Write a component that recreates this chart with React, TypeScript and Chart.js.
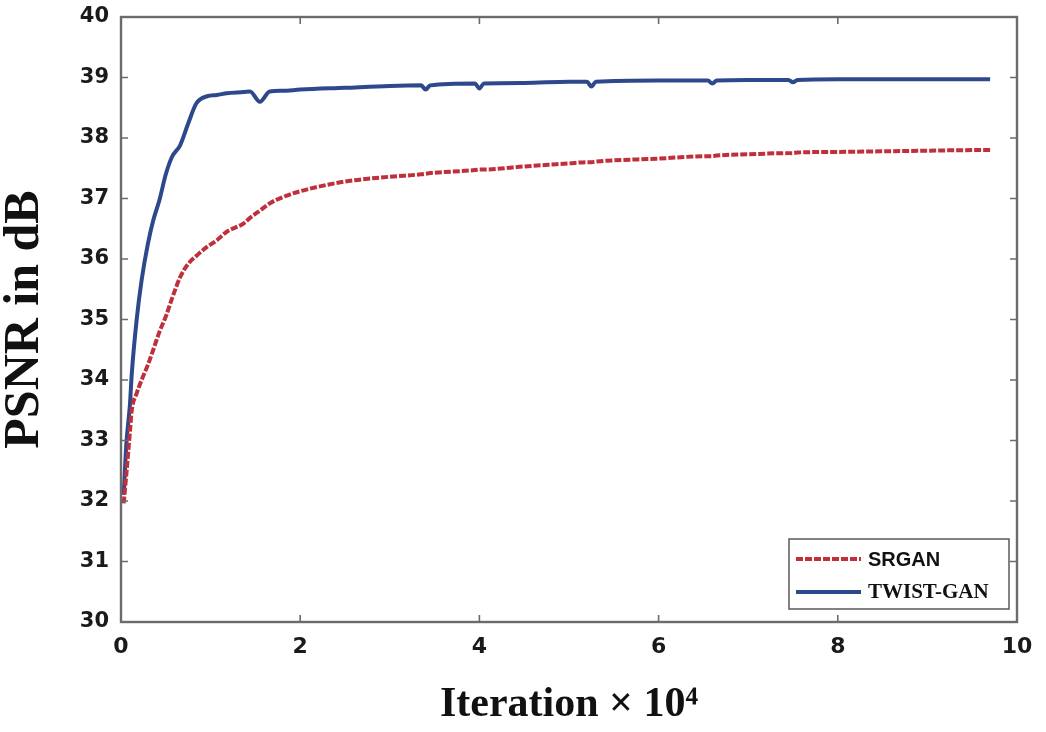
import React, { useEffect, useRef } from "react";
import { Chart, registerables } from "chart.js";

Chart.register(...registerables);

// Iteration (x 10^4)
const iterations = [
  0.03, 0.06, 0.1, 0.12, 0.175, 0.23, 0.3, 0.36, 0.43, 0.5, 0.57, 0.66, 0.75, 0.84, 0.96,
  1.07, 1.18, 1.37, 1.44, 1.55, 1.66, 1.8, 2.0, 2.5, 3.0, 3.35, 3.4, 3.45, 3.95, 4.0,
  4.05, 4.5, 5.0, 5.2, 5.25, 5.3, 6.0, 6.55, 6.6, 6.65, 7.0, 7.45, 7.5, 7.55, 8.0,
  8.5, 9.0, 9.5, 9.7,
];

// PSNR in dB
const srganPsnr = [
  31.96, 32.45, 33.15, 33.5, 33.78, 34.0, 34.25, 34.5, 34.8, 35.05, 35.35, 35.7, 35.92, 36.05, 36.2,
  36.31, 36.45, 36.59, 36.68, 36.8, 36.92, 37.02, 37.12, 37.28, 37.36, 37.4, 37.41, 37.42, 37.47, 37.48,
  37.48, 37.53, 37.58, 37.6, 37.6, 37.61, 37.66, 37.7, 37.7, 37.71, 37.73, 37.75, 37.75, 37.76, 37.77,
  37.78, 37.79, 37.8, 37.8,
];

const twistGanPsnr = [
  32.1, 32.95, 33.6, 34.1, 35.0, 35.65, 36.25, 36.64, 36.98, 37.4, 37.69, 37.88, 38.24, 38.57, 38.69,
  38.71, 38.74, 38.76, 38.77, 38.6, 38.77, 38.78, 38.8, 38.83, 38.86, 38.87, 38.8, 38.87, 38.9, 38.82,
  38.9, 38.91, 38.93, 38.93, 38.85, 38.93, 38.95, 38.95, 38.9, 38.95, 38.96, 38.96, 38.92, 38.96, 38.97,
  38.97, 38.97, 38.97, 38.97,
];

const seriesLabels = ["SRGAN", "TWIST-GAN"];
const xRange = [0, 10];
const xStep = 2;
const yRange = [30, 40];
const yStep = 1;
const xTitle = "Iteration \u00D7 10\u2074";
const yTitle = "PSNR in dB";

const RED = "rgb(192, 48, 60)";
const BLUE = "rgb(46, 72, 140)";
const FRAME = "#6b6b6b";

const framePlugin = {
  id: "frameTicks",
  afterDatasetsDraw(chart: any) {
    const { ctx, chartArea } = chart;
    const { left, right, top, bottom } = chartArea;
    const xs = chart.scales.x;
    const ys = chart.scales.y;
    ctx.save();
    ctx.strokeStyle = FRAME;
    ctx.lineWidth = 1.6;
    const tl = 7;
    ctx.beginPath();
    ys.ticks.forEach((t: any) => {
      const y = ys.getPixelForValue(t.value);
      ctx.moveTo(left, y);
      ctx.lineTo(left + tl, y);
      ctx.moveTo(right, y);
      ctx.lineTo(right - tl, y);
    });
    xs.ticks.forEach((t: any) => {
      const x = xs.getPixelForValue(t.value);
      ctx.moveTo(x, bottom);
      ctx.lineTo(x, bottom - tl);
      ctx.moveTo(x, top);
      ctx.lineTo(x, top + tl);
    });
    ctx.stroke();
    ctx.lineWidth = 2.4;
    ctx.strokeRect(left, top, right - left, bottom - top);
    ctx.restore();
  },
};

const legendPlugin = {
  id: "insideLegend",
  afterDraw(chart: any) {
    const { ctx, chartArea } = chart;
    const bx = chartArea.right - 228;
    const by = chartArea.bottom - 83;
    const bw = 220;
    const bh = 70;
    ctx.save();
    ctx.fillStyle = "#ffffff";
    ctx.fillRect(bx, by, bw, bh);
    ctx.strokeStyle = "#5a5a5a";
    ctx.lineWidth = 1.5;
    ctx.strokeRect(bx, by, bw, bh);
    const fonts = ["bold 20px 'Liberation Sans', Arial, sans-serif", "bold 21px 'Liberation Serif', 'Times New Roman', serif"];
    chart.data.datasets.forEach((ds: any, i: number) => {
      const y = by + 20 + i * 33;
      ctx.beginPath();
      ctx.strokeStyle = ds.borderColor;
      ctx.lineWidth = ds.borderWidth;
      ctx.setLineDash(ds.borderDash || []);
      ctx.moveTo(bx + 7, y);
      ctx.lineTo(bx + 72, y);
      ctx.stroke();
      ctx.setLineDash([]);
      ctx.fillStyle = "#111";
      ctx.font = fonts[i % fonts.length];
      ctx.textBaseline = "middle";
      ctx.textAlign = "left";
      ctx.fillText(ds.label, bx + 79, y + 1);
    });
    ctx.restore();
  },
};

export default function App() {
  const canvasRef = useRef<HTMLCanvasElement | null>(null);

  useEffect(() => {
    document.body.style.margin = "0";
    const canvas = canvasRef.current;
    if (!canvas) return;
    const chart = new Chart(canvas, {
      type: "line",
      data: {
        datasets: [
          {
            label: seriesLabels[0],
            data: iterations.map((x, i) => ({ x, y: srganPsnr[i] })),
            borderColor: RED,
            borderWidth: 4,
            borderDash: [7, 2],
            pointRadius: 0,
            cubicInterpolationMode: "monotone",
            fill: false,
          },
          {
            label: seriesLabels[1],
            data: iterations.map((x, i) => ({ x, y: twistGanPsnr[i] })),
            borderColor: BLUE,
            borderWidth: 4,
            pointRadius: 0,
            cubicInterpolationMode: "monotone",
            fill: false,
          },
        ],
      },
      plugins: [framePlugin, legendPlugin],
      options: {
        animation: false,
        responsive: false,
        maintainAspectRatio: false,
        layout: { padding: { top: 17, right: 29, left: 0, bottom: 0 } },
        plugins: {
          legend: { display: false },
          tooltip: { enabled: false },
        },
        scales: {
          x: {
            type: "linear",
            min: xRange[0],
            max: xRange[1],
            grid: { display: false, drawTicks: false },
            border: { display: false },
            ticks: {
              stepSize: xStep,
              padding: 12,
              color: "#1a1a1a",
              font: { family: "'DejaVu Sans', Verdana, sans-serif", weight: "bold", size: 22 },
            },
            title: {
              display: true,
              text: xTitle,
              color: "#111",
              font: { family: "'Liberation Serif', 'Times New Roman', serif", weight: "bold", size: 42, lineHeight: 1.1 },
              padding: { top: 0, bottom: 4 },
            },
            afterFit(scale: any) {
              scale.height = 110;
              scale.paddingLeft = 0;
              scale.paddingRight = 0;
            },
          },
          y: {
            min: yRange[0],
            max: yRange[1],
            grid: { display: false, drawTicks: false },
            border: { display: false },
            ticks: {
              stepSize: yStep,
              padding: 12,
              color: "#1a1a1a",
              font: { family: "'DejaVu Sans', Verdana, sans-serif", weight: "bold", size: 21 },
            },
            title: {
              display: true,
              text: yTitle,
              color: "#111",
              font: { family: "'Liberation Serif', 'Times New Roman', serif", weight: "bold", size: 50, lineHeight: 1.0 },
              padding: { top: 0, bottom: 0 },
            },
            afterFit(scale: any) {
              scale.width = 121;
              scale.paddingTop = 0;
              scale.paddingBottom = 0;
            },
          },
        },
      },
    } as any);
    return () => chart.destroy();
  }, []);

  return (
    <div style={{ width: 1046, height: 732, background: "#fff" }}>
      <canvas ref={canvasRef} width={1046} height={732} style={{ display: "block" }} />
    </div>
  );
}
